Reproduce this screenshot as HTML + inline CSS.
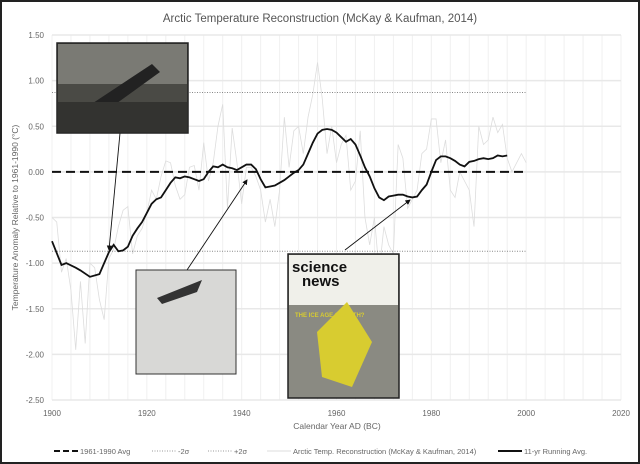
<!DOCTYPE html>
<html><head><meta charset="utf-8"><style>
body{margin:0;background:#fff;font-family:"Liberation Sans",sans-serif}
#wrap{position:relative;width:636px;height:460px;border:2px solid #222;overflow:hidden}
</style></head><body>
<div id="wrap">
<svg id="c" width="636" height="460"></svg>
</div>
<script>
const years=[];for(let y=1900;y<=2000;y++)years.push(y);
const annual=[-0.5,-0.55,-1.1,-0.95,-1.3,-1.95,-1.2,-1.88,-1.0,-1.05,-1.4,-1.62,-0.95,-0.85,-0.6,-0.42,-0.38,-0.9,-0.7,-0.62,-0.45,-0.2,-0.3,-0.05,0.12,0.1,-0.15,-0.3,-0.25,0.05,0.07,-0.2,0.32,-0.1,0.1,0.5,0.74,-0.4,0.48,0.1,-0.35,0.05,0.05,-0.05,-0.2,-0.55,-0.3,-0.6,-0.2,0.6,0.05,0.45,0.5,0.2,0.6,0.85,1.2,0.8,0.2,0.5,0.1,0.3,0.4,-0.2,-0.1,0.45,-0.5,-0.8,-0.5,-1.1,-0.6,-0.8,-0.9,0.3,0.15,-0.4,-0.3,-0.2,0.2,0.25,0.58,0.58,0.1,0.35,-0.2,-0.28,0.0,-0.1,-0.2,-0.6,0.5,0.3,0.35,0.6,0.43,0.52,0.15,0.0,0.1,0.2,0.1];
const avgYears=[1900,1902,1903,1905,1906,1908,1910,1911,1912,1913,1914,1915,1916,1917,1918,1919,1920,1921,1922,1923,1924,1925,1926,1927,1928,1929,1930,1931,1932,1933,1934,1935,1936,1937,1938,1939,1940,1941,1942,1943,1944,1945,1946,1947,1948,1949,1950,1951,1952,1953,1954,1955,1956,1957,1958,1959,1960,1961,1962,1963,1964,1965,1966,1967,1968,1969,1970,1971,1972,1973,1974,1975,1976,1977,1978,1979,1980,1981,1982,1983,1984,1985,1986,1987,1988,1989,1990,1991,1992,1993,1994,1995,1996];
const avgVals=[-0.76,-1.02,-1.0,-1.05,-1.08,-1.15,-1.12,-1.0,-0.88,-0.8,-0.87,-0.86,-0.82,-0.7,-0.62,-0.55,-0.45,-0.35,-0.3,-0.28,-0.2,-0.12,-0.06,-0.07,-0.05,-0.06,-0.08,-0.1,-0.08,0.0,0.06,0.05,0.08,0.05,0.04,0.02,0.05,0.08,0.08,0.03,-0.08,-0.17,-0.16,-0.15,-0.12,-0.09,-0.05,-0.01,0.02,0.08,0.2,0.32,0.42,0.46,0.47,0.46,0.43,0.38,0.33,0.36,0.3,0.18,0.05,-0.05,-0.18,-0.28,-0.31,-0.27,-0.26,-0.25,-0.25,-0.27,-0.28,-0.27,-0.2,-0.14,0.0,0.13,0.17,0.17,0.15,0.12,0.08,0.06,0.11,0.12,0.14,0.15,0.14,0.15,0.18,0.17,0.18];
const yTicks=[1.5,1.0,0.5,0,-0.5,-1.0,-1.5,-2.0,-2.5];
const xTicks=[1900,1920,1940,1960,1980,2000,2020];
const sigma=0.87;
const X=y=>50+(y-1900)*569/120, Y=v=>33+(1.5-v)*91.25;
const svg=document.getElementById('c');const NS='http://www.w3.org/2000/svg';
function mk(t,a,p){const e=document.createElementNS(NS,t);for(const k in a)e.setAttribute(k,a[k]);(p||svg).appendChild(e);return e;}
let e;
for(let y=1900;y<=2020;y+=4){e=mk('line',{x1:X(y),x2:X(y),y1:Y(1.5),y2:Y(-2.5),stroke:'#f0f0f0'});}
yTicks.forEach(v=>{e=mk('line',{x1:X(1900),x2:X(2020),y1:Y(v),y2:Y(v),stroke:'#e8e8e8','stroke-width':1.5});
e=mk('text',{x:X(1900)-8,y:Y(v)+3,'text-anchor':'end','font-size':8,fill:'#666'});e.textContent=v.toFixed(2);});
xTicks.forEach(v=>{e=mk('text',{x:X(v),y:414,'text-anchor':'middle','font-size':8,fill:'#666'});e.textContent=v;});
e=mk('text',{x:318,y:20,'text-anchor':'middle','font-size':11.5,fill:'#555'});e.textContent='Arctic Temperature  Reconstruction (McKay & Kaufman, 2014)';
e=mk('text',{x:335,y:427,'text-anchor':'middle','font-size':8.5,fill:'#666'});e.textContent='Calendar Year AD (BC)';
e=mk('text',{x:0,y:0,'text-anchor':'middle','font-size':8.5,fill:'#666',transform:`translate(16,${Y(-0.5)}) rotate(-90)`});e.textContent='Temperature Anomaly Relative to 1961-1990 (°C)';
e=mk('polyline',{points:years.map((y,i)=>X(y)+','+Y(annual[i])).join(' '),fill:'none',stroke:'#ddd','stroke-width':0.8});
[sigma,-sigma].forEach(s=>{e=mk('line',{x1:X(1900),x2:X(2000),y1:Y(s),y2:Y(s),stroke:'#888','stroke-dasharray':'1 1.5'});});
e=mk('line',{x1:X(1900),x2:X(2000),y1:Y(0),y2:Y(0),stroke:'#111','stroke-width':2,'stroke-dasharray':'9 5'});
e=mk('polyline',{points:avgYears.map((y,i)=>X(y)+','+Y(avgVals[i])).join(' '),fill:'none',stroke:'#111','stroke-width':1.8});
const defs=mk('defs',{});const m=mk('marker',{id:'ah',markerWidth:6,markerHeight:6,refX:5,refY:3,orient:'auto'},defs);mk('path',{d:'M0,0 L6,3 L0,6z',fill:'#111'},m);
[[118,131,107,248],[185,268,245,178],[343,248,408,198]].forEach(a=>{e=mk('line',{x1:a[0],y1:a[1],x2:a[2],y2:a[3],stroke:'#111','stroke-width':0.9,'marker-end':'url(#ah)'});});
e=mk('rect',{x:55,y:41,width:131,height:90,fill:'#4a4a45',stroke:'#222','stroke-width':1.5});
mk('rect',{x:56,y:42,width:129,height:40,fill:'#7a7a74'});mk('path',{d:'M85,105 L150,62 L158,70 L100,112z',fill:'#222'});mk('rect',{x:56,y:100,width:129,height:30,fill:'#333330'});
e=mk('rect',{x:134,y:268,width:100,height:104,fill:'#d8d8d6',stroke:'#333','stroke-width':1});
mk('path',{d:'M155,296 L200,278 L195,290 L160,302z',fill:'#333'});
e=mk('rect',{x:286,y:252,width:111,height:144,fill:'#8a8a82',stroke:'#222','stroke-width':1.5});
mk('rect',{x:287,y:253,width:109,height:50,fill:'#f0f0ea'});mk('path',{d:'M315,330 L345,300 L370,340 L350,385 L320,375z',fill:'#d8cc30'});
e=mk('text',{x:290,y:270,'font-size':15,'font-weight':'bold',fill:'#111'});e.textContent='science';
e=mk('text',{x:300,y:284,'font-size':15,'font-weight':'bold',fill:'#111'});e.textContent='news';
e=mk('text',{x:293,y:315,'font-size':6,'font-weight':'bold',fill:'#d8cc30'});e.textContent='THE ICE AGE COMETH?';
const L=[[52,'1961-1990 Avg','#111',2,'6 3'],[150,'-2σ','#999',1,'1 1.5'],[206,'+2σ','#999',1,'1 1.5'],[265,'Arctic Temp. Reconstruction (McKay & Kaufman, 2014)','#ddd',1,''],[496,'11-yr Running Avg.','#111',2,'']];
L.forEach(l=>{const g=mk('g',{});
mk('line',{x1:l[0],x2:l[0]+24,y1:449,y2:449,stroke:l[2],'stroke-width':l[3],'stroke-dasharray':l[4]},g);
const t=mk('text',{x:l[0]+26,y:452,'font-size':7.5,fill:'#666'},g);t.textContent=l[1];});
</script>
</body></html>
